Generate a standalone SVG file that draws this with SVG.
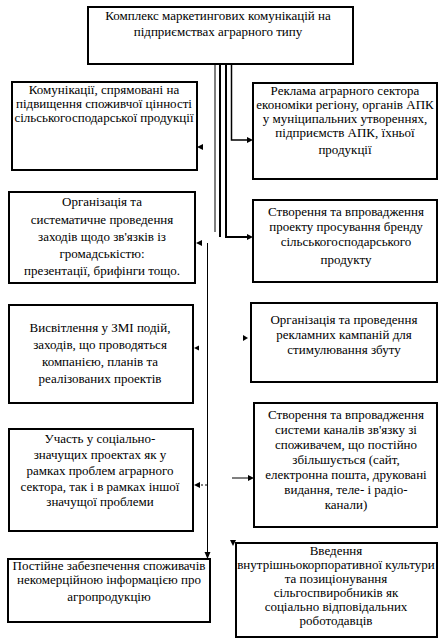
<svg xmlns="http://www.w3.org/2000/svg" width="448" height="644" viewBox="0 0 448 644">
<style>
.box{fill:#fff;stroke:#000;stroke-width:2}
.t{font-family:"Liberation Serif","Times New Roman",serif;font-size:13px;fill:#000;text-anchor:middle}
.ln{fill:none;stroke:#000}
.ah{fill:#000}
</style>
<rect width="448" height="644" fill="#fff"/>
<g id="connectors">
<line class="ln" x1="215" y1="65" x2="215" y2="232" stroke-width="1"/>
<line class="ln" x1="220" y1="65" x2="220" y2="237" stroke-width="2"/>
<polyline class="ln" points="226,65 226,237 249,237" stroke-width="2"/>
<polyline class="ln" points="231.5,65 231.5,140 249,140" stroke-width="1.5"/>
<polygon class="ah" points="253,140 247,137 247,143"/>
<polygon class="ah" points="253,237 247,234 247,240"/>
<line class="ln" x1="207.5" y1="243" x2="207.5" y2="553" stroke-width="1"/>
<polygon class="ah" points="207.5,559 204.5,552 210.5,552"/>
<line class="ln" x1="232" y1="478" x2="249" y2="478" stroke-width="1"/>
<polygon class="ah" points="254,478 248,475 248,481"/>
<polygon class="ah" points="197,147 203,144 203,150"/>
<polygon class="ah" points="196,243 202,240 202,246"/>
<polygon class="ah" points="194,348 199,345.5 199,350.5"/>
<polygon class="ah" points="194,485 200,482 200,488"/>
<line class="ln" x1="201" y1="485" x2="208" y2="485" stroke-width="1" stroke-dasharray="2,2"/>
<polygon class="ah" points="248,338 243,335 243,341"/>
<polygon class="ah" points="233,546 230,540 236,540"/>
</g>
<g id="n0">
<rect class="box" x="88" y="7" width="265" height="57"/>
<text class="t" x="218" y="20">Комплекс маркетингових комунікацій на</text>
<text class="t" x="218" y="36">підприємствах аграрного типу</text>
</g>
<g id="n1">
<rect class="box" x="12" y="82" width="185" height="88"/>
<text class="t" x="104" y="94">Комунікації, спрямовані на</text>
<text class="t" x="104" y="108">підвищення споживчої цінності</text>
<text class="t" x="104" y="122">сільськогосподарської продукції</text>
</g>
<g id="n2">
<rect class="box" x="253" y="83" width="184" height="96"/>
<text class="t" x="345" y="95">Реклама аграрного сектора</text>
<text class="t" x="345" y="109">економіки регіону, органів АПК</text>
<text class="t" x="345" y="123">у муніципальних утвореннях,</text>
<text class="t" x="345" y="137">підприємств АПК, їхньої</text>
<text class="t" x="345" y="154">продукції</text>
</g>
<g id="n3">
<rect class="box" x="9" y="192" width="186" height="91"/>
<text class="t" x="102" y="206">Організація та</text>
<text class="t" x="102" y="224">систематичне проведення</text>
<text class="t" x="102" y="241">заходів щодо зв'язків із</text>
<text class="t" x="102" y="258">громадськістю:</text>
<text class="t" x="102" y="275">презентації, брифінги тощо.</text>
</g>
<g id="n4">
<rect class="box" x="253" y="200" width="184" height="82"/>
<text class="t" x="346" y="216">Створення та впровадження</text>
<text class="t" x="346" y="231">проекту просування бренду</text>
<text class="t" x="346" y="246">сільськогосподарського</text>
<text class="t" x="346" y="264">продукту</text>
</g>
<g id="n5">
<rect class="box" x="9" y="305" width="184" height="98"/>
<text class="t" x="100" y="332">Висвітлення у ЗМІ подій,</text>
<text class="t" x="100" y="349">заходів, що проводяться</text>
<text class="t" x="100" y="366">компанією, планів та</text>
<text class="t" x="100" y="383">реалізованих проектів</text>
</g>
<g id="n6">
<rect class="box" x="251" y="303" width="186" height="79"/>
<text class="t" x="344" y="324">Організація та проведення</text>
<text class="t" x="344" y="339">рекламних кампаній для</text>
<text class="t" x="344" y="354">стимулювання збуту</text>
</g>
<g id="n7">
<rect class="box" x="9" y="429" width="184" height="102"/>
<text class="t" x="100" y="443">Участь у соціально-</text>
<text class="t" x="100" y="459">значущих проектах як у</text>
<text class="t" x="100" y="475">рамках проблем аграрного</text>
<text class="t" x="100" y="491">сектора, так і в рамках іншої</text>
<text class="t" x="100" y="506">значущої проблеми</text>
</g>
<g id="n8">
<rect class="box" x="254" y="403" width="183" height="124"/>
<text class="t" x="346" y="419">Створення та впровадження</text>
<text class="t" x="346" y="434">системи каналів зв'язку зі</text>
<text class="t" x="346" y="449">споживачем, що постійно</text>
<text class="t" x="346" y="464">збільшується (сайт,</text>
<text class="t" x="346" y="479">електронна пошта, друковані</text>
<text class="t" x="346" y="494">видання, теле- і радіо-</text>
<text class="t" x="346" y="509">канали)</text>
</g>
<g id="n9">
<rect class="box" x="8" y="559" width="202" height="63"/>
<text class="t" x="109" y="570">Постійне забезпечення споживачів</text>
<text class="t" x="109" y="584">некомерційною інформацією про</text>
<text class="t" x="109" y="601">агропродукцію</text>
</g>
<g id="n10">
<rect class="box" x="236" y="543" width="201" height="94"/>
<text class="t" x="336" y="555">Введення</text>
<text class="t" x="336" y="569">внутрішньокорпоративної культури</text>
<text class="t" x="336" y="583">та позиціонування</text>
<text class="t" x="336" y="597">сільгоспвиробників як</text>
<text class="t" x="336" y="611">соціально відповідальних</text>
<text class="t" x="336" y="625">роботодавців</text>
</g>
</svg>
